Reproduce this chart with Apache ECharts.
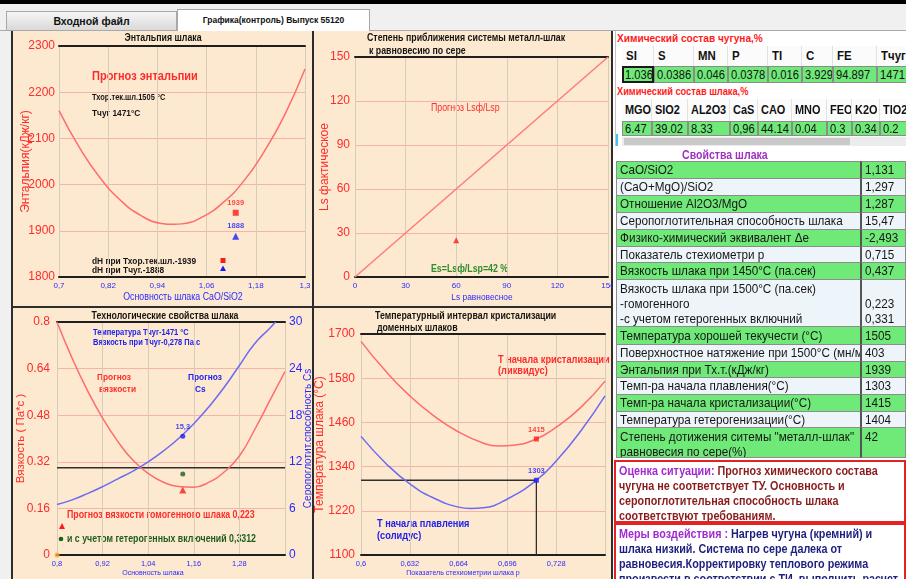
<!DOCTYPE html>
<html lang="ru"><head><meta charset="utf-8">
<title>Графика(контроль) Выпуск 55120</title>
<script src="https://cdn.jsdelivr.net/npm/echarts@6.0.0/dist/echarts.min.js"></script>
<style>
*{box-sizing:border-box}
html,body{margin:0;padding:0;width:906px;height:579px;overflow:hidden;background:#f0f0f0;font-family:'Liberation Sans',Arial,sans-serif;}
.a{position:absolute}
.n{display:inline-block;transform-origin:0 50%;white-space:nowrap}
#chart{position:absolute;left:0;top:0;width:614px;height:579px}
</style></head>
<body>
<div class="a" style="left:0;top:0;width:906px;height:4px;background:#000"></div>
<div class="a" style="left:0;top:30px;width:906px;height:1px;background:#a9a9a9"></div>
<div class="a" style="left:6px;top:11px;width:171px;height:19px;background:linear-gradient(#f6f6f6,#d9d9d9);border:1px solid #a8a8a8;border-bottom:none;font-weight:bold;font-size:10.5px;text-align:center;line-height:18px;color:#111">Входной файл</div>
<div class="a" style="left:177px;top:9px;width:193px;height:22px;background:#fff;border:1px solid #a8a8a8;border-bottom:none;font-weight:bold;font-size:8.5px;text-align:center;line-height:20px;color:#111">Графика(контроль) Выпуск 55120</div>
<div class="a" style="left:12px;top:31px;width:601px;height:548px;background:#fde9cf"></div>
<div class="a" style="left:11px;top:31px;width:2px;height:548px;background:#2d2d2d"></div>
<div class="a" style="left:312px;top:31px;width:2px;height:548px;background:#2d2d2d"></div>
<div class="a" style="left:611px;top:31px;width:2px;height:548px;background:#2d2d2d"></div>
<div class="a" style="left:11px;top:306px;width:602px;height:2px;background:#2d2d2d"></div>
<div id="chart"></div>
<div id="rp" class="a" style="left:613px;top:31px;width:293px;height:548px;background:#fff"></div>
<script>
// ---------- DATA ----------
// Chart 1: enthalpy of slag vs basicity CaO/SiO2
const enthBasicity = [0.70,0.75,0.80,0.85,0.90,0.95,0.98,1.00,1.05,1.10,1.15,1.20,1.25,1.30];
const enthValues   = [2160,2080,2015,1966,1933,1916,1914,1915,1930,1961,2007,2071,2150,2250];
const basicityActual = 1.131;
const enthAtTflow = 1939;
const enthAtTiron = 1888;
// Chart 2: sulphur equilibrium
const lsEqLine  = [0,150];
const lsActLine = [0,150];
const lsEqActual = 60;
const lsActActual = 25;
// Chart 3: viscosity & sulphur capacity vs basicity
const techBasicity = [0.80,0.84,0.88,0.92,0.96,1.00,1.04,1.08,1.12,1.16,1.20,1.24,1.28,1.32,1.36,1.40];
const viscValues   = [0.800,0.675,0.565,0.470,0.390,0.325,0.280,0.250,0.235,0.233,0.250,0.285,0.340,0.430,0.530,0.630];
const csBasicity   = [0.80,0.84,0.88,0.92,0.96,1.00,1.04,1.08,1.12,1.16,1.20,1.24,1.28,1.32,1.36,1.375];
const csValues     = [6.5,7.1,7.9,8.8,9.8,10.8,12.0,13.4,15.0,16.9,19.1,21.6,24.4,27.2,29.2,30.0];
const viscLimit = 0.30;
const viscHomog = 0.223;
const viscAtTiron = 0.278;
const csActual = 15.3;
// Chart 4: crystallisation interval vs stoichiometry p
const pValues       = [0.600,0.616,0.632,0.648,0.664,0.680,0.690,0.700,0.715,0.728,0.744,0.760];
const liquidusVals  = [1680,1600,1532,1477,1434,1404,1396,1398,1415,1447,1500,1572];
const pSolidus      = [0.600,0.616,0.632,0.648,0.664,0.672,0.680,0.696,0.715,0.728,0.744,0.760];
const solidusVals   = [1422,1350,1293,1254,1230,1226,1228,1252,1303,1355,1436,1532];
const pActual = 0.715;
const liquidusActual = 1415;
const solidusActual = 1303;
// Right panel tables
const ironCols = ['SI','S','MN','P','TI','C','FE','Тчуг'];
const ironVals = ['1.036','0.0386','0.046','0.0378','0.016','3.929','94.897','1471'];
const slagCols = ['MGO','SIO2','AL2O3','CaS','CAO','MNO','FEO','K2O','TIO2'];
const slagVals = ['6.47','39.02','8.33','0,96','44.14','0.04','0.3','0.34','0.2'];
const propLabels = ['CaO/SiO2','(CaO+MgO)/SiO2','Отношение Al2O3/MgO','Серопоглотительная способность шлака','Физико-химический эквивалент Δе','Показатель стехиометри р','Вязкость шлака при 1450°С (па.сек)','Вязкость шлака при 1500°С (па.сек)<br>-гомогенного<br>-с учетом гетерогенных включний','Температура хорошей текучести (°С)','Поверхностное натяжение при 1500°С (мн/м)','Энтальпия при Тх.т.(кДж/кг)','Темп-ра начала плавления(°С)','Темп-ра начала кристализации(°С)','Температура гетерогенизации(°С)','Степень дотижения ситемы "металл-шлак"<br>равновесия по сере(%)'];
const propVals = ['1,131','1,297','1,287','15,47','-2,493','0,715','0,437','<br>0,223<br>0,331','1505','403','1939','1303','1415','1404','42'];

// ---------- LAYOUT (positions/styles only) ----------
const FONT = "'Liberation Sans',Arial,sans-serif";
const RED = '#ff2b2b', BLUE = '#2a2aff', CURVE_R = '#ff6c6c', CURVE_B = '#6b6bf2';
const SX = 0.88;
const pairs = (xs, ys) => xs.map((x, i) => [x, ys[i]]);
const comma = v => String(+v.toFixed(3)).replace('.', ',');

function xAx(grid, min, max, interval, fs, showMax) {
  return [{
    type:'value', gridIndex:grid, min, max, interval,
    axisLine:{show:true, onZero:false, lineStyle:{color:'#1f1f1f', width:2}},
    axisTick:{show:false},
    axisLabel:{color:BLUE, fontSize:fs, fontFamily:FONT, margin:5, formatter:comma, showMaxLabel:showMax},
    splitLine:{show:true, lineStyle:{color:'#d8ccbb', width:1}}
  },{
    type:'value', gridIndex:grid, min, max, position:'top',
    axisLine:{show:true, onZero:false, lineStyle:{color:'#1f1f1f', width:2}},
    axisTick:{show:false}, axisLabel:{show:false}, splitLine:{show:false}
  }];
}
function yAx(grid, min, max, interval, name, gap, nameFs, fmt, margin) {
  return {
    type:'value', gridIndex:grid, min, max, interval,
    axisLine:{show:false}, axisTick:{show:false},
    axisLabel:{color:RED, fontSize:12, fontFamily:FONT, margin, formatter:fmt},
    splitLine:{show:true, lineStyle:{color:'#f6b3ab', width:1}},
    name, nameLocation:'middle', nameGap:gap, nameMoveOverlap:false,
    nameTextStyle:{color:RED, fontSize:nameFs, fontFamily:FONT}
  };
}
function txt(x, y, text, color, size, bold, align) {
  return {type:'text', x, y, scaleX:SX, silent:true, style:{text, fill:color, font:(bold?'bold ':'')+size+'px '+FONT, textAlign:align||'left', textVerticalAlign:'middle', align:align||'left', verticalAlign:'middle'}};
}

const chart = echarts.init(document.getElementById('chart'), null, {renderer:'canvas'});
const option = {
  backgroundColor:'transparent',
  animation:false,
  grid:[
    {left:59, top:46, width:246, height:231, containLabel:false, outerBoundsMode:'none'},
    {left:355, top:57, width:253, height:220, containLabel:false, outerBoundsMode:'none'},
    {left:57, top:322, width:228, height:233, containLabel:false, outerBoundsMode:'none'},
    {left:361, top:334, width:244, height:221, containLabel:false, outerBoundsMode:'none'}
  ],
  xAxis:[].concat(
    xAx(0, 0.7, 1.3, 0.12, 8, true),
    xAx(1, 0, 150, 30, 8, true),
    xAx(2, 0.8, 1.4, 0.12, 7.5, false),
    xAx(3, 0.6, 0.76, 0.032, 7.5, false)
  ),
  yAxis:[
    yAx(0, 1800, 2300, 100, 'Энтальпия(кДж/кг)', 27, 12, v=>String(v), 4),
    yAx(1, 0, 150, 30, 'Ls фактическое', 24, 12, v=>String(v), 5),
    yAx(2, 0, 0.8, 0.16, 'Вязкость ( Па*с )', 30, 11.5, v=>String(+v.toFixed(2)), 7),
    {type:'value', gridIndex:2, min:0, max:30, interval:6, position:'right',
     axisLine:{show:false}, axisTick:{show:false}, splitLine:{show:false},
     axisLabel:{color:BLUE, fontSize:12, fontFamily:FONT, margin:4},
     name:'Серопоглотит.способность Cs', nameLocation:'middle', nameGap:18, nameMoveOverlap:false,
     nameTextStyle:{color:BLUE, fontSize:10, fontFamily:FONT}},
    yAx(3, 1100, 1700, 120, 'Температура шлака (°С)', 35, 12, v=>String(v), 6)
  ],
  series:[
    {type:'line', xAxisIndex:0, yAxisIndex:0, data:pairs(enthBasicity, enthValues), smooth:true, showSymbol:false, lineStyle:{color:CURVE_R, width:1.5}},
    {type:'scatter', xAxisIndex:0, yAxisIndex:0, data:[[basicityActual, enthAtTflow]], symbol:'rect', symbolSize:6, itemStyle:{color:'#ff1a1a'},
     label:{show:true, position:'top', distance:3, formatter:p=>p.value[1], color:'#ff1a1a', fontSize:7.5, fontWeight:'bold', fontFamily:FONT}},
    {type:'scatter', xAxisIndex:0, yAxisIndex:0, data:[[basicityActual, enthAtTiron]], symbol:'triangle', symbolSize:7, itemStyle:{color:'#1a1aff'},
     label:{show:true, position:'top', distance:3, formatter:p=>p.value[1], color:'#1a1aff', fontSize:7.5, fontWeight:'bold', fontFamily:FONT}},

    {type:'line', xAxisIndex:2, yAxisIndex:1, data:pairs(lsEqLine, lsActLine), showSymbol:false, lineStyle:{color:'#ff7a7a', width:1.5}},
    {type:'scatter', xAxisIndex:2, yAxisIndex:1, data:[[lsEqActual, lsActActual]], symbol:'triangle', symbolSize:6, itemStyle:{color:'#ff1a1a'}},

    {type:'line', xAxisIndex:4, yAxisIndex:2, data:pairs(techBasicity, viscValues), smooth:true, showSymbol:false, lineStyle:{color:CURVE_R, width:1.5}, z:3},
    {type:'line', xAxisIndex:4, yAxisIndex:3, data:pairs(csBasicity, csValues), smooth:true, showSymbol:false, lineStyle:{color:CURVE_B, width:1.5}, z:3},
    {type:'line', xAxisIndex:4, yAxisIndex:2, data:[[0.8, viscLimit],[1.4, viscLimit]], showSymbol:false, lineStyle:{color:'#2f2f2f', width:1.5}, z:2},
    {type:'scatter', xAxisIndex:4, yAxisIndex:2, data:[[basicityActual, viscHomog]], symbol:'triangle', symbolSize:7, itemStyle:{color:'#ff1a1a'}, z:4},
    {type:'scatter', xAxisIndex:4, yAxisIndex:2, data:[[basicityActual, viscAtTiron]], symbol:'circle', symbolSize:5, itemStyle:{color:'#1d5e1d'}, z:4},
    {type:'scatter', xAxisIndex:4, yAxisIndex:3, data:[[basicityActual, csActual]], symbol:'circle', symbolSize:5, itemStyle:{color:'#1a1aff'}, z:4,
     label:{show:true, position:'top', distance:3, formatter:p=>comma(p.value[1]), color:'#1a1aff', fontSize:7.5, fontWeight:'bold', fontFamily:FONT}},
    {type:'scatter', xAxisIndex:4, yAxisIndex:2, data:[[0.8, 0]], symbol:'circle', symbolSize:5, itemStyle:{color:'#f5a623'}, z:5},

    {type:'line', xAxisIndex:6, yAxisIndex:4, data:pairs(pValues, liquidusVals), smooth:true, showSymbol:false, lineStyle:{color:CURVE_R, width:1.5}, z:3},
    {type:'line', xAxisIndex:6, yAxisIndex:4, data:pairs(pSolidus, solidusVals), smooth:true, showSymbol:false, lineStyle:{color:CURVE_B, width:1.5}, z:3},
    {type:'line', xAxisIndex:6, yAxisIndex:4, data:[[0.6, solidusActual],[pActual, solidusActual],[pActual, 1100]], showSymbol:false, lineStyle:{color:'#2f2f2f', width:1.3}, z:2},
    {type:'scatter', xAxisIndex:6, yAxisIndex:4, data:[[pActual, liquidusActual]], symbol:'rect', symbolSize:5, itemStyle:{color:'#ff1a1a'}, z:4,
     label:{show:true, position:'top', distance:3, formatter:p=>p.value[1], color:'#ff1a1a', fontSize:7.5, fontWeight:'bold', fontFamily:FONT}},
    {type:'scatter', xAxisIndex:6, yAxisIndex:4, data:[[pActual, solidusActual]], symbol:'rect', symbolSize:5, itemStyle:{color:'#1a1aff'}, z:4,
     label:{show:true, position:'top', distance:3, formatter:p=>p.value[1], color:'#1a1aff', fontSize:7.5, fontWeight:'bold', fontFamily:FONT}}
  ],
  graphic:[
    // chart 1
    txt(163, 38, 'Энтальпия шлака', '#151515', 10, true, 'center'),
    txt(92, 77, 'Прогноз энтальпии', RED, 12.5, true),
    txt(92, 98, 'Тхор.тек.шл.1505 °С', '#151515', 8.5, true),
    txt(92, 113, 'Тчуг 1471°С', '#151515', 9.5, true),
    txt(92, 261, 'dH при Тхор.тек.шл.-1939', '#151515', 9.5, true),
    txt(92, 270, 'dH при Тчуг.-1888', '#151515', 9.5, true),
    {type:'rect', shape:{x:220.5, y:258, width:5, height:5}, style:{fill:'#ff1a1a'}},
    {type:'polygon', shape:{points:[[220,271],[226,271],[223,265.5]]}, style:{fill:'#1a1aff'}},
    txt(183, 297, 'Основность шлака CaO/SiO2', BLUE, 10, false, 'center'),
    // chart 2
    txt(367, 38, 'Степень приближения системы металл-шлак', '#151515', 10, true),
    txt(369, 51, 'к равновесию по сере', '#151515', 10, true),
    txt(431, 108, 'Прогноз Lsф/Lsp', RED, 10, false),
    txt(431, 269, 'Es=Lsф/Lsp=42 %', '#2e8b2e', 10, true),
    txt(482, 297, 'Ls равновесное', BLUE, 9.5, false, 'center'),
    // chart 3
    txt(165, 316, 'Технологические свойства шлака', '#151515', 10, true, 'center'),
    txt(93, 333, 'Температура Тчуг-1471 °С', '#2020ee', 8.5, true),
    txt(93, 343, 'Вязкость при Тчуг-0,278 Па.с', '#2020ee', 8.5, true),
    txt(97, 377, 'Прогноз', RED, 9.5, true),
    txt(99, 389, 'вязкости', RED, 9.5, true),
    txt(188, 377, 'Прогноз', '#2020ee', 9.5, true),
    txt(195, 389, 'Cs', '#2020ee', 9.5, true),
    txt(67, 515, 'Прогноз вязкости гомогенного шлака 0,223', RED, 10, true),
    {type:'polygon', shape:{points:[[59,529],[65,529],[62,523]]}, style:{fill:'#ff1a1a'}},
    {type:'circle', shape:{cx:61, cy:539, r:2.3}, style:{fill:'#1d5e1d'}},
    txt(67, 539, 'и с учетом гетерогенных включений 0,3312', '#1d5e1d', 10, true),
    txt(153, 573, 'Основность шлака', BLUE, 8, false, 'center'),
    // chart 4
    txt(375, 316, 'Температурный интервал кристализации', '#151515', 10, true),
    txt(377, 328, 'доменных шлаков', '#151515', 10, true),
    txt(498, 360, 'Т начала кристализации', RED, 10.5, true),
    txt(498, 371, '(ликвидус)', RED, 10.5, true),
    txt(377, 524, 'Т начала плавления', '#2020ee', 10.5, true),
    txt(377, 536, '(солидус)', '#2020ee', 10.5, true),
    txt(463, 573, 'Показатель стехиометрии шлака р', BLUE, 8, false, 'center')
  ]
};
chart.setOption(option);

// ---------- right panel (HTML) ----------
const rp = document.getElementById('rp');
const OX = 613, OY = 31;
function box(x, y, w, h, css, html, sx) {
  const d = document.createElement('div');
  d.className = 'a';
  d.style.cssText = `left:${x-OX}px;top:${y-OY}px;width:${w}px;height:${h}px;` + (css||'');
  if (html !== undefined) d.innerHTML = `<span class="n" style="transform:scaleX(${sx||SX})">${html}</span>`;
  rp.appendChild(d);
  return d;
}
const GREEN = '#6fea78';
box(615, 31, 291, 115, 'border-left:1px solid #c4c4c4;');
box(617, 32, 200, 12, 'font-weight:bold;font-size:11.5px;line-height:12px;color:#ff1a1a;white-space:nowrap', 'Химический состав чугуна,%');
const ironX = [622,654,694,728,768,802,833,877,935];
ironCols.forEach((c,i)=>{
  const w = ironX[i+1]-ironX[i];
  box(ironX[i], 46, w, 20, 'background:#fbfbfb;border-right:1px solid #e2e2e2;font-weight:bold;font-size:13px;line-height:20px;padding-left:4px;color:#111;white-space:nowrap;overflow:hidden', c);
  box(ironX[i], 66, w, 17, 'background:'+GREEN+';border:'+(i===0?'2px solid #1a1a1a':'1px solid #8c8c8c')+';font-size:13px;line-height:'+(i===0?13:15)+'px;padding-left:'+(i===0?1:2)+'px;color:#111;white-space:nowrap;overflow:hidden', ironVals[i], 0.86);
});
box(617, 86, 200, 11, 'font-weight:bold;font-size:10.5px;line-height:11px;color:#ff1a1a;white-space:nowrap', 'Химический состав шлака,%');
const slagX = [622,652,688,730,758,792,827,852,880,935];
slagCols.forEach((c,i)=>{
  const w = slagX[i+1]-slagX[i];
  box(slagX[i], 99, w, 22, 'background:#fbfbfb;border-right:1px solid #e2e2e2;font-weight:bold;font-size:13px;line-height:22px;padding-left:3px;color:#111;white-space:nowrap;overflow:hidden', c, 0.84);
  box(slagX[i], 121, w, 15, 'background:'+GREEN+';border:1px solid #8c8c8c;font-size:13px;line-height:13px;padding-left:2px;color:#111;white-space:nowrap;overflow:hidden', slagVals[i], 0.86);
});
box(622, 137, 284, 9, 'background:#ececec');
box(624, 138, 226, 7, 'background:#c9c9c9;border-radius:1px');
box(616, 134, 2, 12, 'background:#33ccee');
box(682, 149, 110, 12, 'font-weight:bold;font-size:12px;line-height:12px;color:#a030c0;white-space:nowrap', 'Свойства шлака');

const rowH = [17,17,17,17,17,16,17,47,18,17,16,17,17,16,30];
let ry = 161;
propLabels.forEach((lab,i)=>{
  const g = i % 2 === 0;
  const bg = g ? GREEN : '#eef5fa';
  const multi = rowH[i] > 20;
  const lh = multi ? 15 : rowH[i]-1;
  const css = `background:${bg};border:1px solid #8c8c8c;font-size:13px;line-height:${lh}px;padding:${multi?1:0}px 0 0 3px;color:#161616;white-space:nowrap;overflow:hidden;`;
  box(616, ry, 245, rowH[i]+1, css, lab, 0.9);
  box(860, ry, 46, rowH[i]+1, css + 'border-left:2px solid #555;', propVals[i], 0.9);
  ry += rowH[i];
});
box(614, 460, 292, 63, 'background:#fff;border:2px solid #e52222;font-weight:bold;font-size:13px;line-height:15px;padding:1px 0 0 3px;color:#8a1c1c;white-space:nowrap;overflow:hidden',
  '<span style="color:#a22ad0">Оценка ситуации:</span> Прогноз химического состава<br>чугуна не соответствует ТУ. Основность и<br>серопоглотительная способность шлака<br>соответствуют требованиям.', 0.83);
box(614, 523, 292, 70, 'background:#fff;border:2px solid #e52222;font-weight:bold;font-size:13px;line-height:15px;padding:1px 0 0 3px;color:#1f1f80;white-space:nowrap;overflow:hidden',
  '<span style="color:#a22ad0">Меры воздействия :</span> Нагрев чугуна (кремний) и<br>шлака низкий. Система по сере далека от<br>равновесия.Корректировку теплового режима<br>произвести в соответствии с ТИ, выполнить расчет.', 0.83);
</script>
</body></html>
